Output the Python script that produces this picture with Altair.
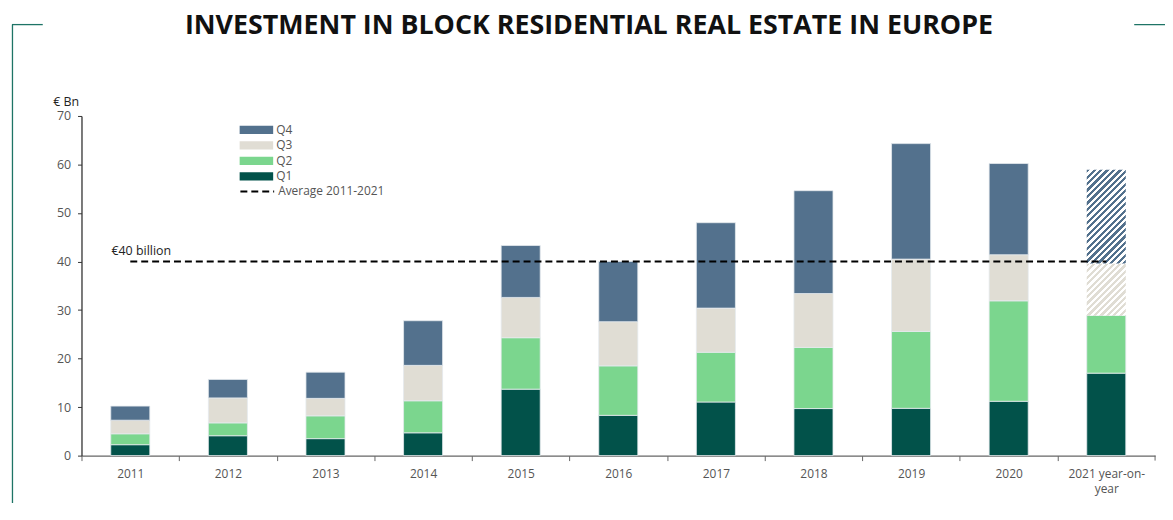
import math
import altair as alt
import pandas as pd

# ---------------- data ----------------
years = ["2011", "2012", "2013", "2014", "2015", "2016", "2017", "2018",
         "2019", "2020", "2021 year-on-year"]
q1 = [2.25, 4.1, 3.5, 4.7, 13.7, 8.3, 11.05, 9.7, 9.75, 11.2, 17.0]
q2 = [2.25, 2.65, 4.7, 6.6, 10.6, 10.2, 10.25, 12.6, 15.85, 20.7, 11.9]
q3 = [2.8, 5.15, 3.6, 7.3, 8.3, 9.1, 9.1, 11.1, 14.9, 9.5, 10.7]
q4 = [2.9, 3.8, 5.4, 9.2, 10.7, 12.4, 17.6, 21.2, 23.8, 18.8, 19.3]
quarters = ["Q1", "Q2", "Q3", "Q4"]
legend_order = ["Q4", "Q3", "Q2", "Q1"]
quarter_colors = ["#53718d", "#e0ddd4", "#7bd68e", "#02524a"]  # Q4, Q3, Q2, Q1
hatched_year = "2021 year-on-year"
hatched_quarters = ["Q3", "Q4"]
average_value = 40
average_label = "Average 2011-2021"
average_text = "€40 billion"
title_text = "INVESTMENT IN BLOCK RESIDENTIAL REAL ESTATE IN EUROPE"
y_ticks = [0, 10, 20, 30, 40, 50, 60, 70]

series = {"Q1": q1, "Q2": q2, "Q3": q3, "Q4": q4}
rows = []
for qi, q in enumerate(quarters):
    for y, v in zip(years, series[q]):
        rows.append({"year": y, "quarter": q, "qorder": qi, "value": v})
df = pd.DataFrame(rows)

# ---------------- layout ----------------
W, H = 1081, 342
YMAX = 70
step = W / len(years)
bar_w = 0.4 * step
ppu = H / YMAX
FONT = "Open Sans"
GREY = "#555555"

x_enc = alt.X(
    "year:N", sort=years,
    scale=alt.Scale(domain=years, paddingInner=0.6, paddingOuter=0.3),
    axis=alt.Axis(
        title=None, labelAngle=0, tickOffset=-step / 2, labelOffset=step / 2,
        tickSize=5, labelPadding=8, domainColor="#666666", tickColor="#666666",
        domainWidth=1.2, labelColor=GREY, labelFontSize=12, labelFont=FONT,
        labelLineHeight=15, grid=False,
        labelExpr="datum.value == '2021 year-on-year' ? ['2021 year-on-', 'year'] : datum.label",
    ),
)
y_scale = alt.Scale(domain=[0, YMAX], nice=False)
y_axis = alt.Axis(
    values=y_ticks, title="€ Bn", titleAngle=0, titleX=-29, titleY=-15,
    titleAlign="left", titleBaseline="middle", titleFontSize=12.5,
    titleFontWeight="normal", titleColor="#222222", titleFont=FONT,
    labelFontSize=12.5, labelColor=GREY, labelFont=FONT, tickSize=4,
    labelPadding=7, domainColor="#333333", tickColor="#333333",
    domainWidth=1.3, grid=False,
)

base = alt.Chart(df).transform_stack(
    stack="value", groupby=["year"], as_=["y0", "y1"],
    sort=[alt.SortField("qorder", order="ascending")],
)

hatch_filter = " || ".join(f"datum.quarter == '{q}'" for q in hatched_quarters)
bars = base.transform_filter(
    f"!(datum.year == '{hatched_year}' && ({hatch_filter}))"
).mark_bar(stroke="#e4e9ed", strokeWidth=0.8).encode(
    x=x_enc,
    y=alt.Y("y0:Q", scale=y_scale, axis=y_axis),
    y2="y1:Q",
    color=alt.Color(
        "quarter:N",
        scale=alt.Scale(domain=legend_order, range=quarter_colors),
        legend=alt.Legend(
            title=None, orient="none", legendX=159, legendY=8,
            symbolType="M-1,-0.25H1V0.25H-1Z", symbolSize=1156,
            symbolStrokeWidth=0, labelFontSize=12, labelColor=GREY,
            labelFont=FONT, labelOffset=3, clipHeight=12, rowPadding=3.6,
            direction="vertical",
        ),
    ),
)


def hatch_gradient(color, w, h, period=6.5):
    s = (w + h) / (w * w + h * h)
    n = (w + h) / period
    stops = []
    for i in range(int(math.ceil(n))):
        a = i / n
        b = min((i + 0.5) / n, 1.0)
        c = min((i + 1) / n, 1.0)
        stops += [{"offset": a, "color": color}, {"offset": b, "color": color},
                  {"offset": b, "color": "#ffffff"}, {"offset": c, "color": "#ffffff"}]
    return {"gradient": "linear", "x1": 0, "y1": 0, "x2": s * w, "y2": s * h,
            "stops": stops}


hatch_layers = []
for q in hatched_quarters:
    col = quarter_colors[legend_order.index(q)]
    val = series[q][years.index(hatched_year)]
    grad = hatch_gradient(col, bar_w, val * ppu)
    hatch_layers.append(
        base.transform_filter(
            f"datum.year == '{hatched_year}' && datum.quarter == '{q}'"
        ).mark_bar(fill=grad, strokeWidth=0).encode(
            x=x_enc, y=alt.Y("y0:Q", scale=y_scale, axis=y_axis), y2="y1:Q"
        )
    )

avg_df = pd.DataFrame({"year": [years[0], years[-1]],
                       "v": [average_value, average_value],
                       "series": [average_label, average_label]})
avg_line = alt.Chart(avg_df).mark_line(color="#000000", strokeWidth=2).encode(
    x=x_enc,
    y=alt.Y("v:Q", scale=y_scale, axis=y_axis),
    strokeDash=alt.StrokeDash(
        "series:N",
        scale=alt.Scale(domain=[average_label], range=[[7, 4]]),
        legend=alt.Legend(
            title=None, orient="none", legendX=159, legendY=70,
            symbolType="M-1,0H1", symbolSize=1156, symbolStrokeWidth=2,
            symbolStrokeColor="#000000", labelFontSize=12, labelColor=GREY,
            labelFont=FONT, labelOffset=3, clipHeight=12,
        ),
    ),
)

avg_txt_df = pd.DataFrame({"year": [years[0]], "v": [average_value], "t": [average_text]})
avg_text = alt.Chart(avg_txt_df).mark_text(
    align="left", baseline="middle", dx=-19, dy=-11, fontSize=12.5,
    font=FONT, color="#222222",
).encode(x=x_enc, y=alt.Y("v:Q", scale=y_scale, axis=y_axis), text="t:N")

title_df = pd.DataFrame({"t": [title_text]})
title = alt.Chart(title_df).mark_text(
    align="center", baseline="middle", fontSize=27, fontWeight="bold",
    font=FONT, color="#111111",
).encode(x=alt.value(511), y=alt.value(-90.5), text="t:N")

one = pd.DataFrame({"d": [0]})
FRAME = "#1e7466"
frame_v = alt.Chart(one).mark_rule(color=FRAME, strokeWidth=1.3).encode(
    x=alt.value(-69.5), y=alt.value(-92), y2=alt.value(420))
frame_h1 = alt.Chart(one).mark_rule(color=FRAME, strokeWidth=1.3).encode(
    x=alt.value(-70), x2=alt.value(-39), y=alt.value(-92))
frame_h2 = alt.Chart(one).mark_rule(color=FRAME, strokeWidth=1.3).encode(
    x=alt.value(1060), x2=alt.value(1100), y=alt.value(-92))
end_tick = alt.Chart(one).mark_rule(color="#666666", strokeWidth=1).encode(
    x=alt.value(W), y=alt.value(H), y2=alt.value(H + 5))

chart = alt.layer(
    bars, *hatch_layers, avg_line, avg_text, title,
    frame_v, frame_h1, frame_h2, end_tick,
).resolve_legend(color="independent", strokeDash="independent").properties(
    width=W, height=H,
    padding={"left": 74, "top": 107, "right": 10, "bottom": 46},
    autosize=alt.AutoSizeParams(type="none"),
    background="white",
).configure_view(stroke=None)

chart.save("out.html", embed_options={"renderer": "svg", "actions": False})
